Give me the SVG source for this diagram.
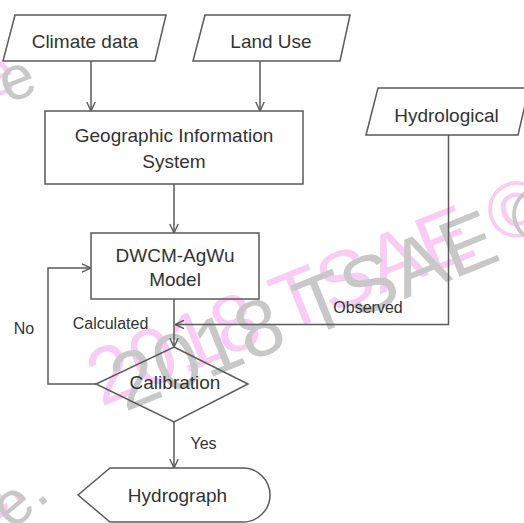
<svg xmlns="http://www.w3.org/2000/svg" width="524" height="523" viewBox="0 0 524 523">
<style>
.shape{fill:none;stroke:#5a5a5a;stroke-width:1.5;stroke-linejoin:miter}
.conn{fill:none;stroke:#5a5a5a;stroke-width:1.5}
.t{font-family:"Liberation Sans",Arial,sans-serif;font-size:19px;fill:#333;text-anchor:middle}
.lbl{font-family:"Liberation Sans",Arial,sans-serif;font-size:16px;fill:#333;text-anchor:middle}
.wm{font-family:"Liberation Sans",Arial,sans-serif;font-size:80px}
.wmp{fill:#f9ccf4}
.wmg{fill:#c8c8c8}
</style>
<defs>
<marker id="arr" viewBox="0 0 10 10" refX="10" refY="5" markerWidth="10" markerHeight="10" markerUnits="userSpaceOnUse" orient="auto">
<path d="M1,0.8 L10,5 L1,9.2" fill="none" stroke="#5a5a5a" stroke-width="1.4"/>
</marker>
</defs>
<rect width="524" height="523" fill="#fff"/>
<g id="watermark">
<text class="wm wmp" transform="translate(101,407) rotate(-22)">2018 TSAE ©</text>
<text class="wm wmp" style="font-size:62px" transform="translate(-12,100) rotate(-22)">e</text>
<text class="wm wmp" style="font-size:62px" transform="translate(-12,528) rotate(-40)">e.</text>
<text class="wm wmg" transform="translate(125,412) rotate(-22)">2018 TSAE ©</text>
<text class="wm wmg" style="font-size:62px" transform="translate(8,104) rotate(-22)">e</text>
<text class="wm wmg" style="font-size:62px" transform="translate(12,531) rotate(-40)">e.</text>
</g>
<g id="connectors">
<path class="conn" d="M91,61 V111" marker-end="url(#arr)"/>
<path class="conn" d="M260,61 V111" marker-end="url(#arr)"/>
<path class="conn" d="M174,184 V233" marker-end="url(#arr)"/>
<path class="conn" d="M174,299 V347" marker-end="url(#arr)"/>
<path class="conn" d="M448.5,135 V324.5 H175" marker-end="url(#arr)"/>
<path class="conn" d="M96,384 H48 V268 H91" marker-end="url(#arr)"/>
<path class="conn" d="M174,422 V468" marker-end="url(#arr)"/>
<text class="lbl" x="110.5" y="328.5">Calculated</text>
<text class="lbl" x="368" y="312.5">Observed</text>
<text class="lbl" x="24" y="333.5">No</text>
<text class="lbl" x="203.5" y="448.5">Yes</text>
</g>
<g id="climate">
<polygon class="shape" points="15,15 166,15 155,61 3,61"/>
<text class="t" x="85" y="47.5">Climate data</text>
</g>
<g id="landuse">
<polygon class="shape" points="205,15 350,15 340,61 193,61"/>
<text class="t" x="271" y="47.5">Land Use</text>
</g>
<g id="hydrological">
<polygon class="shape" points="378,88 529,88 518,135 366,135"/>
<text class="t" x="446.5" y="121.5">Hydrological</text>
</g>
<g id="gis">
<rect class="shape" x="45" y="111" width="258" height="73"/>
<text class="t" x="174" y="141.5">Geographic Information</text>
<text class="t" x="174" y="168">System</text>
</g>
<g id="dwcm">
<rect class="shape" x="91" y="233" width="168" height="66"/>
<text class="t" x="175" y="262">DWCM-AgWu</text>
<text class="t" x="175" y="285.5">Model</text>
</g>
<g id="calibration">
<polygon class="shape" points="174,347 248,384 174,422 96,384"/>
<text class="t" x="175" y="388.5">Calibration</text>
</g>
<g id="hydrograph">
<path class="shape" d="M78,495 L110,468 L243,468 A27,27 0 0 1 243,522 L110,522 Z"/>
<text class="t" x="177.5" y="501.5">Hydrograph</text>
</g>
</svg>
